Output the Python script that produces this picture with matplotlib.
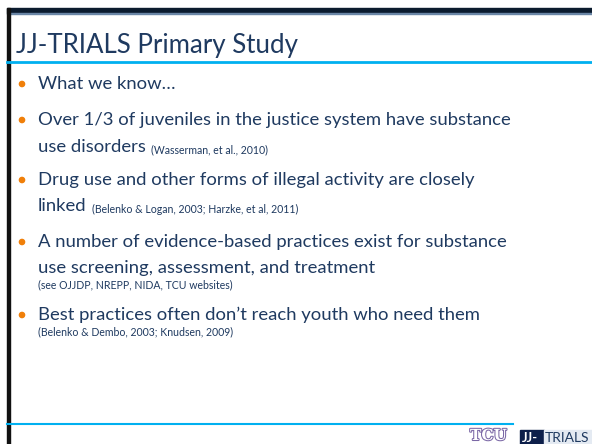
import matplotlib.pyplot as plt
import matplotlib.patheffects as pe
from matplotlib.patches import Rectangle, Circle

W, H = 592, 444
navy = '#1F3A60'
orange = '#F07F09'
cyan = '#00B0F0'

title = 'JJ-TRIALS Primary Study'
# (text, citation, y of line, bullet?)
lines = [
    ('What we know…', '', 84, True),
    ('Over 1/3 of juveniles in the justice system have substance', '', 120, True),
    ('use disorders', '(Wasserman, et al., 2010)', 147, False),
    ('Drug use and other forms of illegal activity are closely', '', 180, True),
    ('linked', '(Belenko & Logan, 2003; Harzke, et al, 2011)', 206, False),
    ('A number of evidence-based practices exist for substance', '', 242, True),
    ('use screening, assessment, and treatment', '', 268, False),
    ('', '(see OJJDP, NREPP, NIDA, TCU websites)', 285, False),
    ('Best practices often don’t reach youth who need them', '', 315, True),
    ('', '(Belenko & Dembo, 2003; Knudsen, 2009)', 332, False),
]

fig = plt.figure(figsize=(W / 100, H / 100), dpi=100)
ax = fig.add_axes([0, 0, 1, 1])
ax.set_xlim(0, W)
ax.set_ylim(H, 0)
ax.axis('off')

# frame
ax.add_patch(Rectangle((7, 8), W - 7, 5, color='#0B1B2E'))
ax.add_patch(Rectangle((7, 13), W - 7, 1.5, color='#6A86A6'))
ax.add_patch(Rectangle((7, 8), 3, H - 8, color='#111111'))
ax.plot([7, W], [62, 62], color=cyan, lw=2)
ax.plot([7, 513], [424, 424], color=cyan, lw=1.5)

ax.text(16, 46, title, fontsize=18.6, color=navy, family='Lato', va='center')

fig.canvas.draw()
for txt, cite, y, bullet in lines:
    if bullet:
        ax.add_patch(Circle((22, y), 2.6, color=orange))
    x = 38
    if txt:
        t = ax.text(x, y, txt, fontsize=13.3, color=navy, family='Lato', va='center')
        if cite:
            bb = t.get_window_extent(renderer=fig.canvas.get_renderer())
            x = bb.x1 + 5
    if cite:
        ax.text(x, y + (3 if txt else 0), cite, fontsize=7.6, color=navy,
                family='Lato', va='center')

# logos
ax.text(470, 436, 'TCU', fontsize=11, color='white', family='DejaVu Serif',
        fontweight='bold', va='center',
        path_effects=[pe.withStroke(linewidth=1.5, foreground='#7B68A6')])
ax.add_patch(Rectangle((520, 430), 24, 14, color='#0D1F4A'))
ax.text(522, 437.5, 'JJ-', fontsize=9.5, color='white', family='Lato', fontweight='bold', va='center')
ax.add_patch(Rectangle((544, 430), W - 544, 14, color='#E4EAF2'))
ax.text(545, 437.5, 'TRIALS', fontsize=10, color='#1F3A60', family='Lato', va='center')

fig.savefig('out.png', dpi=100)
